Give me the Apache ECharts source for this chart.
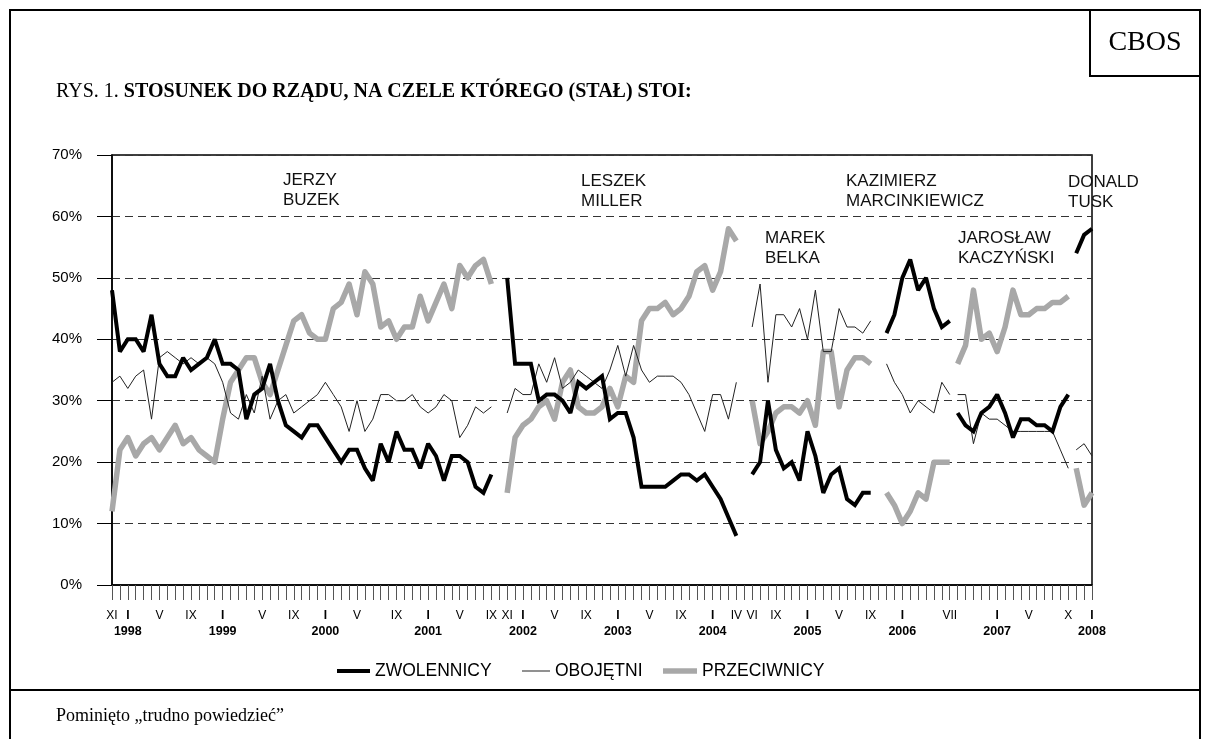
<!DOCTYPE html>
<html>
<head>
<meta charset="utf-8">
<script src="https://cdn.jsdelivr.net/npm/echarts@6/dist/echarts.min.js"></script>
<style>
  html, body { margin: 0; padding: 0; background: #fff; }
  #chart { width: 1209px; height: 739px; }
</style>
</head>
<body>
<div id="chart"></div>
<script>
// CBOS monthly readings, XI 1997 - I 2008 (125 surveys, null = change of government)
const zwolennicy = [
  48, 38, 40, 40, 38, 44, 36, 34, 34, 37, 35, 36, 37, 40, 36, 36, 35, 27, 31, 32, 36, 30, 26, 25, 24,
  26, 26, 24, 22, 20, 22, 22, 19, 17, 23, 20, 25, 22, 22, 19, 23, 21, 17, 21, 21, 20, 16, 15, 18,
  null,
  50, 36, 36, 36, 30, 31, 31, 30, 28, 33, 32, 33, 34, 27, 28, 28, 24, 16, 16, 16, 16, 17, 18, 18, 17, 18, 16, 14, 11, 8,
  null,
  18, 20, 30, 22, 19, 20, 17, 25, 21, 15, 18, 19, 14, 13, 15, 15,
  null,
  41, 44, 50, 53, 48, 50, 45, 42, 43,
  28, 26, 25, 28, 29, 31, 28, 24, 27, 27, 26, 26, 25, 29, 31,
  54, 57, 58
];
const obojetni = [
  33, 34, 32, 34, 35, 27, 37, 38, 37, 36, 37, 36, 37, 36, 33, 28, 27, 31, 28, 34, 27, 30, 31, 28, 29,
  30, 31, 33, 31, 29, 25, 30, 25, 27, 31, 31, 30, 30, 31, 29, 28, 29, 31, 30, 24, 26, 29, 28, 29,
  null,
  28, 32, 31, 31, 36, 33, 37, 32, 33, 35, 34, 33, 32, 35, 39, 34, 39, 35, 33, 34, 34, 34, 33, 31, 28, 25, 31, 31, 27, 33,
  null,
  42, 49, 33, 44, 44, 42, 45, 40, 48, 38, 38, 45, 42, 42, 41, 43,
  null,
  36, 33, 31, 28, 30, 29, 28, 33, 31,
  31, 31, 23, 28, 27, 27, 26, 25, 25, 25, 25, 25, 25, 22, 19,
  22, 23, 21
];
const przeciwnicy = [
  12, 22, 24, 21, 23, 24, 22, 24, 26, 23, 24, 22, 21, 20, 27, 33, 35, 37, 37, 33, 31, 35, 39, 43, 44,
  41, 40, 40, 45, 46, 49, 44, 51, 49, 42, 43, 40, 42, 42, 47, 43, 46, 49, 45, 52, 50, 52, 53, 49,
  null,
  15, 24, 26, 27, 29, 30, 27, 33, 35, 29, 28, 28, 29, 32, 29, 34, 33, 43, 45, 45, 46, 44, 45, 47, 51, 52, 48, 51, 58, 56,
  null,
  30, 23, 25, 28, 29, 29, 28, 30, 26, 38, 38, 29, 35, 37, 37, 36,
  null,
  15, 13, 10, 12, 15, 14, 20, 20, 20,
  36, 39, 48, 40, 41, 38, 42, 48, 44, 44, 45, 45, 46, 46, 47,
  19, 13, 15
];

// governments: first and last survey index
const govNames = ['JERZY\nBUZEK', 'LESZEK\nMILLER', 'MAREK\nBELKA',
  'KAZIMIERZ\nMARCINKIEWICZ', 'JAROSŁAW\nKACZYŃSKI', 'DONALD\nTUSK'];
const govStart = [0, 50, 81, 98, 107, 122];
const govEnd = [48, 79, 96, 106, 121, 124];

// x axis labels
const labelIdx = [0, 2, 6, 10, 14, 19, 23, 27, 31, 36, 40, 44, 48, 50, 52, 56, 60, 64, 68, 72,
  76, 79, 81, 84, 88, 92, 96, 100, 106, 112, 116, 121, 124];
const labelRoman = ['XI', 'I', 'V', 'IX', 'I', 'V', 'IX', 'I', 'V', 'IX', 'I', 'V', 'IX', 'XI', 'I', 'V', 'IX', 'I', 'V', 'IX',
  'I', 'IV', 'VI', 'IX', 'I', 'V', 'IX', 'I', 'VII', 'I', 'V', 'X', 'I'];
const yearIdx = [2, 14, 27, 40, 52, 64, 76, 88, 100, 112, 124];
const yearLabels = ['1998', '1999', '2000', '2001', '2002', '2003', '2004', '2005', '2006', '2007', '2008'];

const categories = zwolennicy.map((v, i) => String(i));
const romanAt = {};
labelIdx.forEach((idx, k) => { romanAt[idx] = labelRoman[k]; });
const yearAt = {};
yearIdx.forEach((idx, k) => { yearAt[idx] = yearLabels[k]; });

const SANS = '"Liberation Sans", Arial, sans-serif';
const SERIF = '"Liberation Serif", "Times New Roman", serif';

const measures = [
  { name: 'PRZECIWNICY', values: przeciwnicy, color: '#a8a8a8', width: 5.5, join: 'round', z: 2 },
  { name: 'OBOJĘTNI', values: obojetni, color: '#222', width: 1, join: 'miter', z: 3 },
  { name: 'ZWOLENNICY', values: zwolennicy, color: '#000', width: 4, join: 'miter', z: 4 }
];

const series = [];
measures.forEach(m => {
  govStart.forEach((s, g) => {
    series.push({
      type: 'line',
      name: m.name,
      data: m.values.map((v, i) => (i >= s && i <= govEnd[g]) ? v : null),
      symbol: 'none',
      color: m.color,
      lineStyle: { color: m.color, width: m.width, join: m.join, miterLimit: 2 },
      connectNulls: false,
      z: m.z,
      silent: true,
      animation: false
    });
  });
});

// government name positions (left, centre of first line)
const govPos = [[283, 180], [581, 181], [765, 238], [846, 181], [958, 238], [1068, 182]];

const chart = echarts.init(document.getElementById('chart'));

const legendBase = {
  top: 662,
  padding: 0,
  icon: 'rect',
  selectedMode: false,
  textStyle: { fontFamily: SANS, fontSize: 17.5, color: '#000' }
};

chart.setOption({
  backgroundColor: '#fff',
  animation: false,
  grid: {
    left: 112, top: 155, width: 980, height: 430,
    show: true, borderColor: '#000', borderWidth: 1.5, backgroundColor: 'transparent'
  },
  legend: [
    Object.assign({}, legendBase, { data: ['ZWOLENNICY'], left: 337, itemWidth: 33, itemHeight: 4 }),
    Object.assign({}, legendBase, { data: ['OBOJĘTNI'], left: 522, itemWidth: 28, itemHeight: 1 }),
    Object.assign({}, legendBase, { data: ['PRZECIWNICY'], left: 663, itemWidth: 34, itemHeight: 5.5 })
  ],
  xAxis: {
    type: 'category',
    data: categories,
    boundaryGap: false,
    axisLine: { lineStyle: { color: '#000', width: 1.5 } },
    axisTick: { show: true, interval: 0, length: 15, lineStyle: { color: '#555', width: 1 } },
    axisLabel: {
      interval: 0,
      margin: 23,
      color: '#000',
      formatter: (v, i) => {
        const r = romanAt[i];
        if (!r) return '';
        const head = r === 'I' ? '{b|I}' : '{r|' + r + '}';
        return yearAt[i] ? head + '\n{y|' + yearAt[i] + '}' : head;
      },
      rich: {
        r: { fontFamily: SANS, fontSize: 12, lineHeight: 16, color: '#000' },
        b: { fontFamily: SANS, fontSize: 12, fontWeight: 'bold', lineHeight: 16, color: '#000' },
        y: { fontFamily: SANS, fontSize: 12.5, fontWeight: 'bold', lineHeight: 16, color: '#000' }
      }
    },
    splitLine: { show: false }
  },
  yAxis: {
    type: 'value',
    min: 0,
    max: 70,
    interval: 10,
    axisLine: { show: true, lineStyle: { color: '#000', width: 1.5 } },
    axisTick: { show: true, length: 15, lineStyle: { color: '#000' } },
    axisLabel: { formatter: '{value}%', margin: 30, fontFamily: SANS, fontSize: 15, color: '#000' },
    splitLine: { show: true, lineStyle: { color: '#333', width: 1, type: [8, 5] } }
  },
  series: series,
  graphic: [
    // outer frame
    { type: 'rect', shape: { x: 10, y: 10, width: 1190, height: 760 },
      style: { fill: 'none', stroke: '#000', lineWidth: 2 }, silent: true },
    // CBOS box
    { type: 'rect', shape: { x: 1090, y: 10, width: 110, height: 66 },
      style: { fill: 'none', stroke: '#000', lineWidth: 2 }, silent: true },
    { type: 'text', x: 1145, y: 43,
      style: { text: 'CBOS', font: '28px ' + SERIF, fill: '#000', align: 'center', verticalAlign: 'middle' } },
    // footer divider
    { type: 'line', shape: { x1: 10, y1: 690, x2: 1200, y2: 690 },
      style: { stroke: '#000', lineWidth: 2 }, silent: true },
    { type: 'text', x: 56, y: 716,
      style: { text: 'Pominięto \u201Etrudno powiedzieć\u201D', font: '18px ' + SERIF, fill: '#000', verticalAlign: 'middle' } },
    // title
    { type: 'text', x: 56, y: 92,
      style: {
        text: '{a|RYS. 1. }{b|STOSUNEK DO RZĄDU, NA CZELE KTÓREGO (STAŁ) STOI:}',
        verticalAlign: 'middle',
        rich: {
          a: { fontFamily: SERIF, fontSize: 20, fill: '#000' },
          b: { fontFamily: SERIF, fontSize: 20, fontWeight: 'bold', fill: '#000' }
        }
      } }
  ].concat(govNames.map((t, k) => ({
    type: 'text', x: govPos[k][0], y: govPos[k][1] - 10.25,
    style: { text: t, font: '17px ' + SANS, fill: '#111', lineHeight: 20.5, verticalAlign: 'top' }
  })))
});
</script>
</body>
</html>
